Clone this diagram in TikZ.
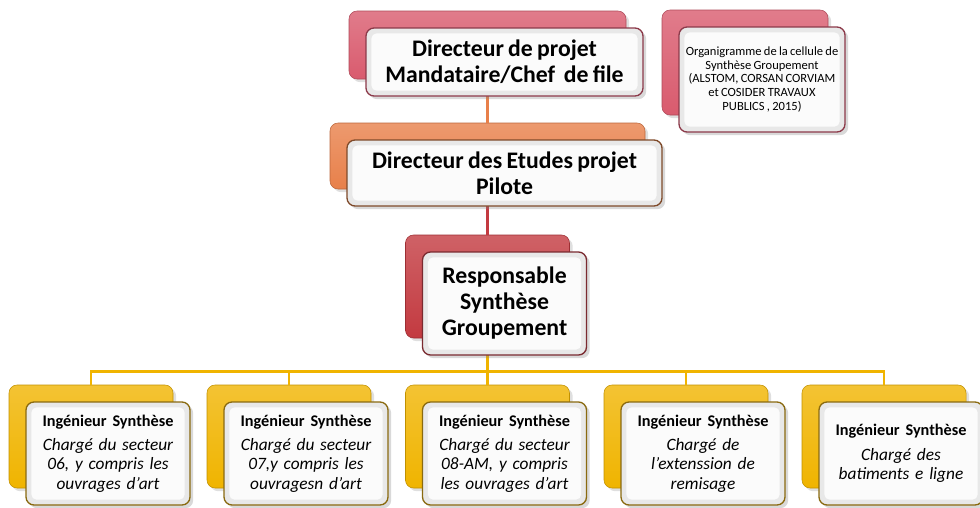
\documentclass[tikz,border=0pt]{standalone}
\usepackage{fontspec}
\setmainfont{Carlito}[WordSpace=0.8]
\usetikzlibrary{shadows}
\definecolor{rose}{HTML}{D95B6E}
\definecolor{roseline}{HTML}{8C3A4A}
\definecolor{tangerine}{HTML}{E8804A}
\definecolor{tangerineline}{HTML}{7F4A2A}
\definecolor{brick}{HTML}{C33A40}
\definecolor{brickline}{HTML}{7A2A30}
\definecolor{amber}{HTML}{F0B400}
\definecolor{amberline}{HTML}{8A6A10}

\tikzset{
  boxsize/.style 2 args={minimum width=#1*0.75pt, minimum height=#2*0.75pt},
  backbox/.style={rounded corners=6pt, draw=#1!80!black, top color=#1!80!white, bottom color=#1,
    inner sep=0pt, drop shadow={opacity=0.25}},
  frontbox/.style={rounded corners=6pt, draw=#1, line width=1pt, fill=gray!18, align=center, inner sep=2pt,
    drop shadow={opacity=0.3},
    path picture={\fill[white!97!gray,rounded corners=4pt] ([shift={(4pt,-4pt)}]path picture bounding box.north west)
      rectangle ([shift={(-4pt,4pt)}]path picture bounding box.south east);}},
  bigtext/.style={font=\fontsize{17.8}{19.5}\selectfont\bfseries},
  link/.style={line width=2pt,#1},
}

\begin{document}
\begin{tikzpicture}[x=0.75pt,y=-0.75pt]
  \useasboundingbox (0,0) rectangle (980,507);

  % coloured boxes behind
  \node[backbox=rose, boxsize={277}{68}] (dirB) at (487.5,45) {};
  \node[backbox=rose, boxsize={166}{105}] (infoB) at (745,62.5) {};
  \node[backbox=tangerine, boxsize={315}{66}] (etuB) at (487.5,156) {};
  \node[backbox=brick, boxsize={164}{103}] (respB) at (487.5,286.5) {};

  \draw[link=tangerine] (dirB.south) -- (etuB.north);
  \draw[link=brick] (etuB.south) -- (respB.north);

  % the five engineers
  \foreach \x/\n/\txt in {91/1/{Chargé du secteur\\06, y compris les\\ouvrages d'art},
      289/2/{Chargé du secteur\\07,y compris les\\ouvragesn d'art},
      487.5/3/{Chargé du secteur\\08-AM, y compris\\les ouvrages d'art},
      686/4/{Chargé de\\l'extenssion de\\remisage},
      884/5/{Chargé des\\batiments e ligne}} {
    \node[backbox=amber, boxsize={164}{103}] (ing\n B) at (\x,436.5) {};
    \draw[link=amber] (respB.south) -- ++(0,33) -| (ing\n B.north);
    \node[frontbox=amberline, boxsize={164}{103}, text width=118pt,
      font=\fontsize{13}{14.6}\selectfont] (ing\n) at (\x+17,453.5)
      {{\fontsize{12.2}{14.6}\selectfont\bfseries Ingénieur Synthèse}\\[3.5pt]\itshape \txt};
  }

  % white boxes in front
  \node[frontbox=roseline, boxsize={277}{68}, bigtext] (dir) at (504.5,62)
    {Directeur de projet\\Mandataire/Chef~ de file};
  \node[frontbox=roseline, boxsize={166}{105}, font=\fontsize{9.4}{10.2}\selectfont] (info) at (762,79.5)
    {Organigramme de la cellule de\\Synthèse Groupement\\(ALSTOM, CORSAN CORVIAM\\et COSIDER TRAVAUX\\PUBLICS , 2015)};
  \node[frontbox=tangerineline, boxsize={315}{66}, bigtext] (etu) at (504.5,173)
    {Directeur des Etudes projet\\Pilote};
  \node[frontbox=brickline, boxsize={164}{103}, bigtext] (resp) at (504.5,303.5)
    {Responsable\\Synthèse\\Groupement};
\end{tikzpicture}
\end{document}
